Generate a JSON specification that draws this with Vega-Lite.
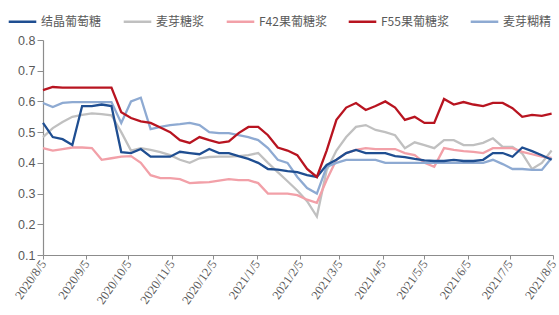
{
  "$schema": "https://vega.github.io/schema/vega-lite/v6.json",
  "width": 510,
  "height": 215,
  "autosize": "none",
  "padding": {"left": 43, "top": 40, "right": 6, "bottom": 60},
  "background": "white",
  "data": {"values": [
    {"d":"2020-08-05","结晶葡萄糖":0.53,"麦芽糖浆":0.484,"F42果葡糖浆":0.448,"F55果葡糖浆":0.637,"麦芽糊精":0.595},
    {"d":"2020-08-12","结晶葡萄糖":0.484,"麦芽糖浆":0.513,"F42果葡糖浆":0.44,"F55果葡糖浆":0.647,"麦芽糊精":0.582},
    {"d":"2020-08-19","结晶葡萄糖":0.477,"麦芽糖浆":0.533,"F42果葡糖浆":0.445,"F55果葡糖浆":0.645,"麦芽糊精":0.595},
    {"d":"2020-08-26","结晶葡萄糖":0.458,"麦芽糖浆":0.55,"F42果葡糖浆":0.45,"F55果葡糖浆":0.645,"麦芽糊精":0.598},
    {"d":"2020-09-02","结晶葡萄糖":0.585,"麦芽糖浆":0.556,"F42果葡糖浆":0.45,"F55果葡糖浆":0.645,"麦芽糊精":0.598},
    {"d":"2020-09-09","结晶葡萄糖":0.585,"麦芽糖浆":0.561,"F42果葡糖浆":0.448,"F55果葡糖浆":0.645,"麦芽糊精":0.598},
    {"d":"2020-09-16","结晶葡萄糖":0.59,"麦芽糖浆":0.559,"F42果葡糖浆":0.41,"F55果葡糖浆":0.645,"麦芽糊精":0.598},
    {"d":"2020-09-23","结晶葡萄糖":0.585,"麦芽糖浆":0.555,"F42果葡糖浆":0.415,"F55果葡糖浆":0.645,"麦芽糊精":0.598},
    {"d":"2020-09-30","结晶葡萄糖":0.435,"麦芽糖浆":0.5,"F42果葡糖浆":0.42,"F55果葡糖浆":0.565,"麦芽糊精":0.53},
    {"d":"2020-10-07","结晶葡萄糖":0.432,"麦芽糖浆":0.44,"F42果葡糖浆":0.422,"F55果葡糖浆":0.546,"麦芽糊精":0.6},
    {"d":"2020-10-14","结晶葡萄糖":0.445,"麦芽糖浆":0.448,"F42果葡糖浆":0.4,"F55果葡糖浆":0.535,"麦芽糊精":0.612},
    {"d":"2020-10-21","结晶葡萄糖":0.42,"麦芽糖浆":0.442,"F42果葡糖浆":0.36,"F55果葡糖浆":0.53,"麦芽糊精":0.51},
    {"d":"2020-10-28","结晶葡萄糖":0.42,"麦芽糖浆":0.435,"F42果葡糖浆":0.35,"F55果葡糖浆":0.515,"麦芽糊精":0.517},
    {"d":"2020-11-04","结晶葡萄糖":0.42,"麦芽糖浆":0.425,"F42果葡糖浆":0.35,"F55果葡糖浆":0.5,"麦芽糊精":0.523},
    {"d":"2020-11-11","结晶葡萄糖":0.436,"麦芽糖浆":0.41,"F42果葡糖浆":0.347,"F55果葡糖浆":0.474,"麦芽糊精":0.526},
    {"d":"2020-11-18","结晶葡萄糖":0.432,"麦芽糖浆":0.4,"F42果葡糖浆":0.334,"F55果葡糖浆":0.465,"麦芽糊精":0.53},
    {"d":"2020-11-25","结晶葡萄糖":0.428,"麦芽糖浆":0.415,"F42果葡糖浆":0.336,"F55果葡糖浆":0.484,"麦芽糊精":0.523},
    {"d":"2020-12-02","结晶葡萄糖":0.445,"麦芽糖浆":0.419,"F42果葡糖浆":0.337,"F55果葡糖浆":0.474,"麦芽糊精":0.5},
    {"d":"2020-12-09","结晶葡萄糖":0.432,"麦芽糖浆":0.42,"F42果葡糖浆":0.342,"F55果葡糖浆":0.465,"麦芽糊精":0.497},
    {"d":"2020-12-16","结晶葡萄糖":0.432,"麦芽糖浆":0.42,"F42果葡糖浆":0.347,"F55果葡糖浆":0.47,"麦芽糊精":0.497},
    {"d":"2020-12-23","结晶葡萄糖":0.422,"麦芽糖浆":0.422,"F42果葡糖浆":0.344,"F55果葡糖浆":0.497,"麦芽糊精":0.49},
    {"d":"2020-12-30","结晶葡萄糖":0.413,"麦芽糖浆":0.425,"F42果葡糖浆":0.344,"F55果葡糖浆":0.517,"麦芽糊精":0.484},
    {"d":"2021-01-06","结晶葡萄糖":0.4,"麦芽糖浆":0.432,"F42果葡糖浆":0.334,"F55果葡糖浆":0.517,"麦芽糊精":0.474},
    {"d":"2021-01-13","结晶葡萄糖":0.38,"麦芽糖浆":0.4,"F42果葡糖浆":0.3,"F55果葡糖浆":0.49,"麦芽糊精":0.448},
    {"d":"2021-01-20","结晶葡萄糖":0.378,"麦芽糖浆":0.37,"F42果葡糖浆":0.3,"F55果葡糖浆":0.45,"麦芽糊精":0.41},
    {"d":"2021-01-27","结晶葡萄糖":0.373,"麦芽糖浆":0.34,"F42果葡糖浆":0.3,"F55果葡糖浆":0.44,"麦芽糊精":0.4},
    {"d":"2021-02-03","结晶葡萄糖":0.37,"麦芽糖浆":0.31,"F42果葡糖浆":0.295,"F55果葡糖浆":0.425,"麦芽糊精":0.354},
    {"d":"2021-02-10","结晶葡萄糖":0.36,"麦芽糖浆":0.275,"F42果葡糖浆":0.28,"F55果葡糖浆":0.38,"麦芽糊精":0.318},
    {"d":"2021-02-17","结晶葡萄糖":0.354,"麦芽糖浆":0.225,"F42果葡糖浆":0.27,"F55果葡糖浆":0.354,"麦芽糊精":0.3},
    {"d":"2021-02-24","结晶葡萄糖":0.393,"麦芽糖浆":0.376,"F42果葡糖浆":0.344,"F55果葡糖浆":0.44,"麦芽糊精":0.387},
    {"d":"2021-03-03","结晶葡萄糖":0.41,"麦芽糖浆":0.44,"F42果葡糖浆":0.41,"F55果葡糖浆":0.54,"麦芽糊精":0.4},
    {"d":"2021-03-10","结晶葡萄糖":0.432,"麦芽糖浆":0.484,"F42果葡糖浆":0.432,"F55果葡糖浆":0.58,"麦芽糊精":0.41},
    {"d":"2021-03-17","结晶葡萄糖":0.442,"麦芽糖浆":0.517,"F42果葡糖浆":0.442,"F55果葡糖浆":0.595,"麦芽糊精":0.41},
    {"d":"2021-03-24","结晶葡萄糖":0.432,"麦芽糖浆":0.523,"F42果葡糖浆":0.448,"F55果葡糖浆":0.572,"麦芽糊精":0.41},
    {"d":"2021-03-31","结晶葡萄糖":0.432,"麦芽糖浆":0.507,"F42果葡糖浆":0.445,"F55果葡糖浆":0.585,"麦芽糊精":0.41},
    {"d":"2021-04-07","结晶葡萄糖":0.432,"麦芽糖浆":0.5,"F42果葡糖浆":0.445,"F55果葡糖浆":0.6,"麦芽糊精":0.4},
    {"d":"2021-04-14","结晶葡萄糖":0.422,"麦芽糖浆":0.49,"F42果葡糖浆":0.445,"F55果葡糖浆":0.58,"麦芽糊精":0.4},
    {"d":"2021-04-21","结晶葡萄糖":0.419,"麦芽糖浆":0.448,"F42果葡糖浆":0.432,"F55果葡糖浆":0.54,"麦芽糊精":0.4},
    {"d":"2021-04-28","结晶葡萄糖":0.413,"麦芽糖浆":0.467,"F42果葡糖浆":0.425,"F55果葡糖浆":0.55,"麦芽糊精":0.4},
    {"d":"2021-05-05","结晶葡萄糖":0.408,"麦芽糖浆":0.458,"F42果葡糖浆":0.4,"F55果葡糖浆":0.53,"麦芽糊精":0.4},
    {"d":"2021-05-12","结晶葡萄糖":0.406,"麦芽糖浆":0.448,"F42果葡糖浆":0.387,"F55果葡糖浆":0.53,"麦芽糊精":0.4},
    {"d":"2021-05-19","结晶葡萄糖":0.406,"麦芽糖浆":0.474,"F42果葡糖浆":0.448,"F55果葡糖浆":0.608,"麦芽糊精":0.4},
    {"d":"2021-05-26","结晶葡萄糖":0.41,"麦芽糖浆":0.474,"F42果葡糖浆":0.442,"F55果葡糖浆":0.59,"麦芽糊精":0.4},
    {"d":"2021-06-02","结晶葡萄糖":0.406,"麦芽糖浆":0.458,"F42果葡糖浆":0.438,"F55果葡糖浆":0.598,"麦芽糊精":0.4},
    {"d":"2021-06-09","结晶葡萄糖":0.406,"麦芽糖浆":0.458,"F42果葡糖浆":0.436,"F55果葡糖浆":0.59,"麦芽糊精":0.4},
    {"d":"2021-06-16","结晶葡萄糖":0.41,"麦芽糖浆":0.465,"F42果葡糖浆":0.432,"F55果葡糖浆":0.585,"麦芽糊精":0.4},
    {"d":"2021-06-23","结晶葡萄糖":0.432,"麦芽糖浆":0.48,"F42果葡糖浆":0.448,"F55果葡糖浆":0.595,"麦芽糊精":0.41},
    {"d":"2021-06-30","结晶葡萄糖":0.432,"麦芽糖浆":0.452,"F42果葡糖浆":0.448,"F55果葡糖浆":0.595,"麦芽糊精":0.396},
    {"d":"2021-07-07","结晶葡萄糖":0.42,"麦芽糖浆":0.452,"F42果葡糖浆":0.448,"F55果葡糖浆":0.578,"麦芽糊精":0.38},
    {"d":"2021-07-14","结晶葡萄糖":0.45,"麦芽糖浆":0.43,"F42果葡糖浆":0.436,"F55果葡糖浆":0.55,"麦芽糊精":0.38},
    {"d":"2021-07-21","结晶葡萄糖":0.438,"麦芽糖浆":0.38,"F42果葡糖浆":0.428,"F55果葡糖浆":0.556,"麦芽糊精":0.377},
    {"d":"2021-07-28","结晶葡萄糖":0.425,"麦芽糖浆":0.4,"F42果葡糖浆":0.42,"F55果葡糖浆":0.553,"麦芽糊精":0.377},
    {"d":"2021-08-04","结晶葡萄糖":0.41,"麦芽糖浆":0.44,"F42果葡糖浆":0.416,"F55果葡糖浆":0.56,"麦芽糊精":0.416}
  ]},
  "transform": [
    {"fold": ["麦芽糖浆","F42果葡糖浆","麦芽糊精","结晶葡萄糖","F55果葡糖浆"], "as": ["series","value"]}
  ],
  "mark": {"type": "line", "strokeWidth": 2.3, "interpolate": "linear"},
  "encoding": {
    "x": {
      "field": "d", "type": "temporal",
      "scale": {"type": "utc", "domain": [{"year":2020,"month":8,"date":5,"utc":true},{"year":2021,"month":8,"date":5,"utc":true}]},
      "axis": {
        "title": null, "grid": false,
        "values": [
          {"year":2020,"month":8,"date":5,"utc":true},{"year":2020,"month":9,"date":5,"utc":true},
          {"year":2020,"month":10,"date":5,"utc":true},{"year":2020,"month":11,"date":5,"utc":true},
          {"year":2020,"month":12,"date":5,"utc":true},{"year":2021,"month":1,"date":5,"utc":true},
          {"year":2021,"month":2,"date":5,"utc":true},{"year":2021,"month":3,"date":5,"utc":true},
          {"year":2021,"month":4,"date":5,"utc":true},{"year":2021,"month":5,"date":5,"utc":true},
          {"year":2021,"month":6,"date":5,"utc":true},{"year":2021,"month":7,"date":5,"utc":true},
          {"year":2021,"month":8,"date":5,"utc":true}
        ],
        "format": "%Y/%-m/%-d",
        "labelAngle": -55, "labelAlign": "right", "labelBaseline": "middle",
        "labelFont": "Liberation Serif", "labelFontSize": 12.5, "labelColor": "#595959",
        "labelPadding": 2, "labelOverlap": false, "labelFlush": false, "labelBound": false,
        "tickSize": 4, "tickColor": "#8c8c8c", "domainColor": "#8c8c8c", "domainWidth": 1.2
      }
    },
    "y": {
      "field": "value", "type": "quantitative",
      "scale": {"domain": [0.1, 0.8], "nice": false, "zero": false},
      "axis": {
        "title": null, "grid": false, "values": [0.1,0.2,0.3,0.4,0.5,0.6,0.7,0.8], "format": ".1f",
        "labelFont": "Liberation Sans", "labelFontSize": 12.5, "labelColor": "#595959",
        "labelPadding": 2, "tickSize": 6, "tickColor": "#8c8c8c", "domainColor": "#8c8c8c", "domainWidth": 1.2
      }
    },
    "color": {
      "field": "series", "type": "nominal",
      "scale": {
        "domain": ["结晶葡萄糖","麦芽糖浆","F42果葡糖浆","F55果葡糖浆","麦芽糊精"],
        "range": ["#1f4e91","#c0c0c0","#f2a0a8","#b81420","#8eaad2"]
      },
      "legend": {
        "title": null, "orient": "none", "direction": "horizontal", "columns": 5,
        "legendX": -36, "legendY": -34,
        "symbolType": "stroke", "symbolSize": 760, "symbolStrokeWidth": 2.5,
        "labelFont": "Noto Sans CJK SC", "labelFontSize": 12, "labelColor": "#595959",
        "labelOffset": 3, "columnPadding": 16, "padding": 0, "labelLimit": 200
      }
    },
    "order": {"field": "series"},
    "detail": {"field": "series"}
  },
  "config": {"view": {"stroke": null}}
}
